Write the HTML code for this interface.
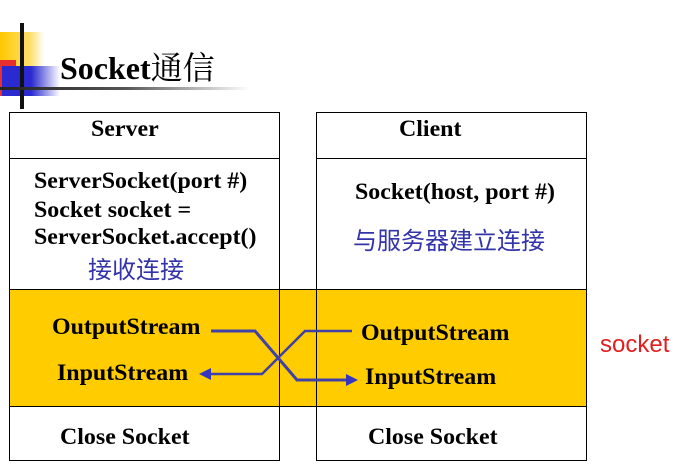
<!DOCTYPE html>
<html><head><meta charset="utf-8"><style>
body{margin:0;width:690px;height:473px;background:#fff;position:relative;overflow:hidden;font-family:"Liberation Serif","Noto Serif CJK SC",serif}
.a{position:absolute}
.t{position:absolute;font-weight:bold;font-size:23px;line-height:28px;color:#000;white-space:nowrap;transform-origin:0 50%;transform:scaleX(1.04)}
.c{position:absolute;font-family:"Liberation Sans","Noto Sans CJK SC",sans-serif;font-size:24px;line-height:28px;color:#3333aa;white-space:nowrap}
</style></head><body>
<div class="a" style="left:0;top:32px;width:44px;height:48px;background:linear-gradient(90deg,#ffc800,#ffe070 70%,#fff)"></div>
<div class="a" style="left:0;top:60px;width:16px;height:36px;background:#e83030"></div>
<div class="a" style="left:2px;top:66px;width:58px;height:30px;background:linear-gradient(90deg,#2a2ad0 50%,#fff)"></div>
<div class="a" style="left:20px;top:23px;width:4px;height:86px;background:#111"></div>
<div class="a" style="left:0;top:87px;width:250px;height:3px;background:linear-gradient(90deg,#222,#555 50%,#fff)"></div>
<div class="t" style="left:60px;top:48px;font-size:32px;line-height:36px;transform:none">Socket<span style="font-weight:normal;font-family:'Noto Serif CJK SC',serif">通信</span></div>

<div class="a" style="left:9px;top:289px;width:577px;height:117px;background:#ffcc00"></div>
<svg class="a" style="left:0;top:0" width="690" height="473">
<g fill="none" stroke="#000" stroke-width="1">
<rect x="9.5" y="112.5" width="270" height="348"/>
<rect x="316.5" y="112.5" width="270" height="348"/>
<line x1="9" y1="158.5" x2="280" y2="158.5"/><line x1="316" y1="158.5" x2="587" y2="158.5"/>
<line x1="9" y1="289.5" x2="587" y2="289.5"/><line x1="9" y1="406.5" x2="587" y2="406.5"/>
</g>
<g fill="none" stroke="#4040a8" stroke-width="3">
<polyline points="211,331 255,331 297,380 348,380"/>
<polyline points="352,331 305,331 262,374 208,374" stroke-width="2.5"/>
</g>
<polygon points="358,380 346,374 346,386" fill="#3535c0"/>
<polygon points="199,374 211,368 211,380" fill="#3535c0"/>
</svg>
<div class="t" style="left:91px;top:115px">Server</div>
<div class="t" style="left:399px;top:115px">Client</div>
<div class="t" style="left:34px;top:167px">ServerSocket(port #)</div>
<div class="t" style="left:34px;top:196px">Socket socket =</div>
<div class="t" style="left:34px;top:223px">ServerSocket.accept()</div>
<div class="c" style="left:88px;top:257px">接收连接</div>
<div class="t" style="left:355px;top:178px">Socket(host, port #)</div>
<div class="c" style="left:353px;top:228px">与服务器建立连接</div>
<div class="t" style="left:52px;top:313px">OutputStream</div>
<div class="t" style="left:57px;top:359px">InputStream</div>
<div class="t" style="left:361px;top:319px">OutputStream</div>
<div class="t" style="left:365px;top:363px">InputStream</div>
<div class="c" style="left:600px;top:331px;color:#e02020">socket</div>
<div class="t" style="left:60px;top:423px">Close Socket</div>
<div class="t" style="left:368px;top:423px">Close Socket</div>
</body></html>
